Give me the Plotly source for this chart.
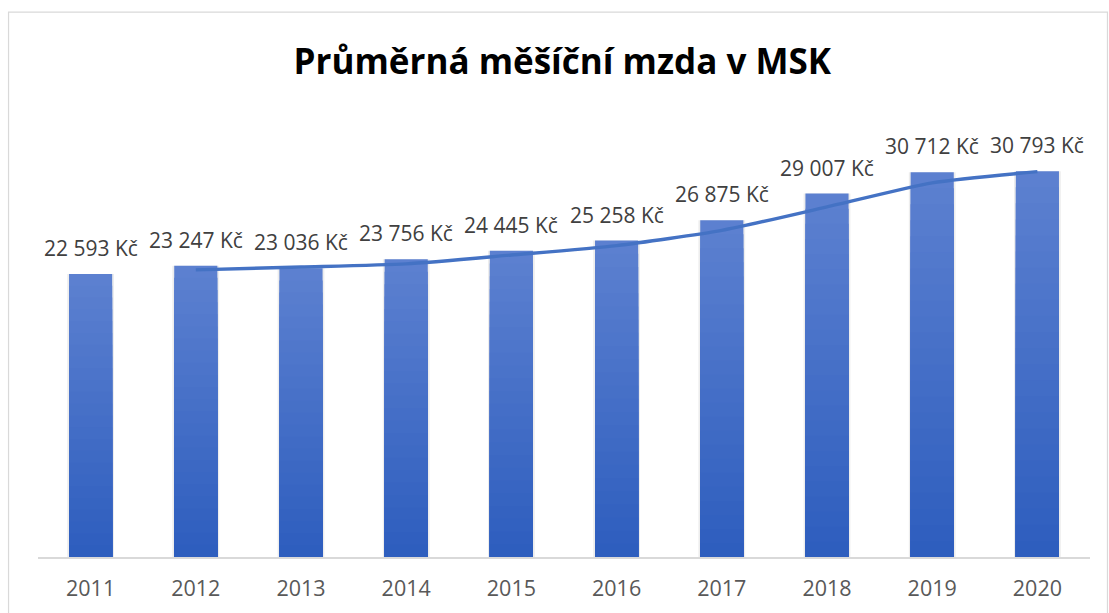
import plotly.graph_objects as go

years = ["2011", "2012", "2013", "2014", "2015", "2016", "2017", "2018", "2019", "2020"]
wages = [22593, 23247, 23036, 23756, 24445, 25258, 26875, 29007, 30712, 30793]
labels = ["22 593 Kč", "23 247 Kč", "23 036 Kč", "23 756 Kč", "24 445 Kč",
          "25 258 Kč", "26 875 Kč", "29 007 Kč", "30 712 Kč", "30 793 Kč"]
trend_years = ["2012", "2013", "2014", "2015", "2016", "2017", "2018", "2019", "2020"]
trend_values = [22920, 23142, 23396, 24101, 24852, 26067, 27941, 29860, 30753]

TOP = (0x5C, 0x80, 0xD0)
BOT = (0x2E, 0x5E, 0xBE)
N_LAYERS = 24
BAR_W = 0.41

fig = go.Figure()

# soft shadow behind bars
fig.add_trace(go.Bar(x=years, y=wages, width=BAR_W + 0.035,
                     marker=dict(color="rgba(0,0,0,0.07)", line=dict(width=0)),
                     hoverinfo="skip", showlegend=False))

# gradient made from stacked overlay layers
for i in range(N_LAYERS):
    t = i / (N_LAYERS - 1)
    c = tuple(round(TOP[k] + (BOT[k] - TOP[k]) * t) for k in range(3))
    frac = 1 - i / N_LAYERS
    fig.add_trace(go.Bar(x=years, y=[v * frac for v in wages], width=BAR_W,
                         marker=dict(color="rgb(%d,%d,%d)" % c, line=dict(width=0)),
                         hoverinfo="skip", showlegend=False))

fig.add_trace(go.Scatter(x=trend_years, y=trend_values, mode="lines",
                         line=dict(color="#4472C4", width=3.4, shape="spline", smoothing=0.6),
                         showlegend=False))

for idx, (y, t) in enumerate(zip(wages, labels)):
    fig.add_annotation(x=idx, y=y, text=t, showarrow=False, yanchor="bottom", yshift=10,
                       font=dict(family="Open Sans", size=21, color="#404040"))

fig.add_shape(type="rect", xref="paper", yref="paper",
              x0=-0.0280, x1=1.0166, y0=-0.3, y1=1.279,
              line=dict(color="#D9D9D9", width=1.2), fillcolor="rgba(0,0,0,0)", layer="below")

fig.update_layout(
    width=1109, height=613,
    margin=dict(l=37.5, r=18.5, t=131, b=56),
    paper_bgcolor="white", plot_bgcolor="white",
    barmode="overlay", bargap=0.59,
    title=dict(text="<b>Průměrná měšíční mzda v MSK</b>", x=0.507, xanchor="center",
               y=0.899, yanchor="middle",
               font=dict(family="Open Sans", size=35, color="#000000")),
    xaxis=dict(type="category", range=[-0.5, 9.5], showline=True, linecolor="#D9D9D9",
               linewidth=1.5, ticks="", ticklabelstandoff=11,
               tickfont=dict(family="Open Sans", size=21.5, color="#595959"),
               showgrid=False, zeroline=False),
    yaxis=dict(range=[0, 34000], visible=False, showgrid=False, zeroline=False),
)

fig.write_html("out.html", config={"displayModeBar": False},
               post_script="document.body.style.margin='0';")
